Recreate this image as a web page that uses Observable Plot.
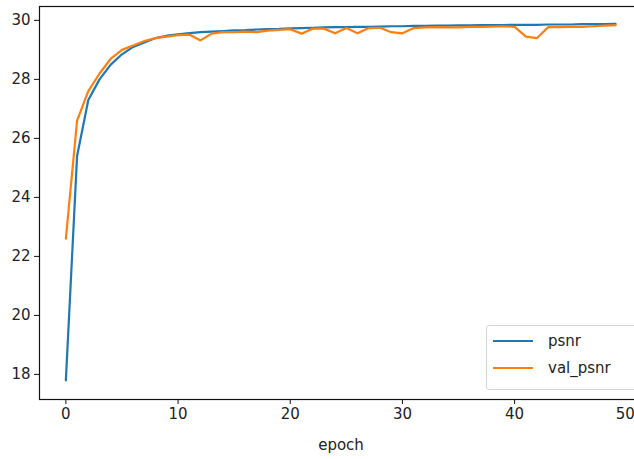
<!DOCTYPE html>
<html>
<head>
<meta charset="utf-8">
<script src="https://cdn.jsdelivr.net/npm/d3@7"></script>
<script src="https://cdn.jsdelivr.net/npm/@observablehq/plot@0.6"></script>
<style>
  html, body { margin: 0; padding: 0; background: #fff; }
  #wrap { position: relative; width: 634px; height: 459px; font-family: "DejaVu Sans", sans-serif; }
  #legend { position: absolute; left: 486px; top: 325px; width: 152px; height: 65px; border: 1px solid #d6d6d6; border-radius: 3px; background: rgba(255,255,255,0.8); box-sizing: border-box; font-size: 15px; color: #222; }
  .item { position: absolute; left: 6px; display: flex; align-items: center; }
  .sw { width: 40px; height: 0; border-top: 2px solid; margin-right: 15px; }
</style>
</head>
<body>
<div id="wrap"></div>
<script>
const epochs = d3.range(0, 50);
const psnr = [17.8, 25.4, 27.3, 28.0, 28.5, 28.85, 29.1, 29.25, 29.4, 29.48,
  29.53, 29.57, 29.6, 29.62, 29.64, 29.66, 29.67, 29.69, 29.7, 29.71,
  29.73, 29.74, 29.75, 29.76, 29.77, 29.77, 29.78, 29.78, 29.79, 29.8,
  29.8, 29.81, 29.81, 29.82, 29.82, 29.83, 29.83, 29.84, 29.84, 29.84,
  29.85, 29.85, 29.85, 29.86, 29.86, 29.86, 29.87, 29.87, 29.87, 29.88];
const val_psnr = [22.6, 26.6, 27.6, 28.2, 28.7, 29.0, 29.15, 29.3, 29.4, 29.45,
  29.5, 29.52, 29.32, 29.55, 29.6, 29.6, 29.62, 29.6, 29.65, 29.68,
  29.7, 29.55, 29.72, 29.72, 29.56, 29.74, 29.56, 29.74, 29.75, 29.6,
  29.56, 29.74, 29.76, 29.77, 29.76, 29.76, 29.78, 29.78, 29.79, 29.8,
  29.78, 29.45, 29.4, 29.77, 29.77, 29.78, 29.78, 29.8, 29.82, 29.84];
const xTicks = [0, 10, 20, 30, 40];
const xTickLast = [50];
const yTicks = [18, 20, 22, 24, 26, 28, 30];
const seriesNames = ["psnr", "val_psnr"];
const seriesColors = ["#1f77b4", "#ff7f0e"];

const rows = [];
epochs.forEach((e, i) => {
  rows.push({epoch: e, value: psnr[i], series: seriesNames[0]});
});
epochs.forEach((e, i) => {
  rows.push({epoch: e, value: val_psnr[i], series: seriesNames[1]});
});

const chart = Plot.plot({
  width: 634,
  height: 459,
  marginLeft: 39,
  marginRight: -8,
  marginTop: 6,
  marginBottom: 60,
  style: {fontFamily: "DejaVu Sans, sans-serif", fontSize: "15px", color: "#222", background: "white"},
  x: {domain: [-2.35, 51.4], label: null},
  y: {domain: [17.15, 30.47], label: null},
  color: {domain: seriesNames, range: seriesColors},
  marks: [
    Plot.line(rows, {x: "epoch", y: "value", z: "series", stroke: "series", strokeWidth: 2.2, curve: "linear"}),
    Plot.frame({stroke: "#111", strokeWidth: 1.2}),
    Plot.axisX({ticks: xTicks, tickSize: 5, tickPadding: 4, fontSize: 15, label: "epoch", labelAnchor: "center", labelArrow: "none", labelOffset: 50, stroke: "#111"}),
    Plot.axisX({ticks: xTickLast, tickSize: 5, tickPadding: 4, fontSize: 15, label: null, stroke: "#111", textAnchor: "end", dx: 8}),
    Plot.axisY({ticks: yTicks, tickSize: 5, tickPadding: 4, fontSize: 15, label: null, stroke: "#111"})
  ]
});
const wrap = document.getElementById("wrap");
wrap.appendChild(chart);

const legend = document.createElement("div");
legend.id = "legend";
seriesNames.forEach((name, i) => {
  const item = document.createElement("div");
  item.className = "item";
  item.style.top = (6 + i * 27) + "px";
  const sw = document.createElement("span");
  sw.className = "sw";
  sw.style.borderTopColor = seriesColors[i];
  const label = document.createElement("span");
  label.textContent = name;
  item.appendChild(sw);
  item.appendChild(label);
  legend.appendChild(item);
});
wrap.appendChild(legend);
</script>
</body>
</html>
